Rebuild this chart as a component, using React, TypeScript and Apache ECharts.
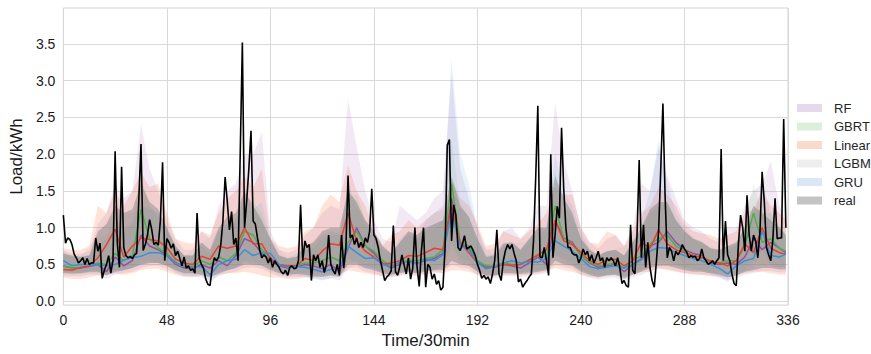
import React, { useEffect, useRef } from "react";
import * as echarts from "echarts";

// ---------------- data ----------------
const realLoad = [
  1.17, 0.79, 0.86, 0.84, 0.77, 0.64, 0.59, 0.52, 0.55, 0.59,
  0.50, 0.58, 0.50, 0.52, 0.52, 0.86, 0.68, 0.79, 0.31, 0.42,
  0.50, 0.62, 0.38, 0.55, 2.04, 0.80, 0.46, 1.83, 0.73, 0.62,
  0.59, 0.61, 0.58, 0.63, 0.65, 1.40, 2.14, 0.69, 0.77, 0.90,
  1.11, 0.97, 0.77, 0.80, 0.76, 1.10, 1.89, 0.55, 0.85, 0.80,
  0.72, 0.78, 0.62, 0.68, 0.58, 0.48, 0.60, 0.45, 0.48, 0.42,
  0.44, 0.38, 1.20, 0.59, 0.50, 0.45, 0.30, 0.23, 0.21, 0.45,
  0.59, 0.55, 0.60, 0.77, 1.10, 1.69, 1.36, 0.97, 1.22, 0.77,
  0.86, 0.55, 2.00, 3.52, 1.00, 1.36, 1.80, 2.32, 1.09, 1.05,
  0.86, 0.70, 0.59, 0.63, 0.60, 0.52, 0.59, 0.46, 0.55, 0.50,
  0.46, 0.40, 0.37, 0.42, 0.35, 0.46, 0.48, 0.44, 0.45, 0.55,
  1.31, 0.55, 0.82, 0.73, 0.77, 0.28, 0.63, 0.55, 0.63, 0.46,
  0.55, 0.39, 0.50, 0.90, 0.50, 0.42, 0.37, 0.50, 0.35, 0.90,
  0.45, 0.72, 1.71, 0.86, 0.90, 0.77, 0.86, 0.73, 0.80, 0.73,
  0.86, 0.80, 0.95, 1.53, 0.90, 0.85, 0.73, 0.55, 0.42, 0.28,
  0.33, 0.36, 0.41, 1.03, 0.40, 0.35, 0.47, 0.63, 0.49, 0.37,
  0.59, 0.30, 0.45, 1.00, 0.47, 0.20, 0.68, 1.00, 0.19, 0.50,
  0.46, 0.30, 0.37, 0.23, 0.28, 0.15, 0.19, 0.73, 2.12, 2.20,
  0.82, 1.31, 1.17, 0.73, 0.69, 0.77, 0.89, 0.71, 0.73, 0.75,
  0.69, 0.62, 0.50, 0.42, 0.31, 0.35, 0.30, 0.33, 0.24, 0.37,
  0.55, 0.97, 0.37, 0.28, 0.55, 0.69, 0.77, 0.71, 0.77, 0.65,
  0.55, 0.26, 0.30, 0.19, 0.24, 0.28, 0.33, 0.37, 0.82, 1.67,
  2.66, 0.60, 0.59, 0.73, 0.55, 0.35, 2.00, 0.59, 0.90, 1.29,
  1.13, 2.36, 1.53, 1.00, 0.73, 0.73, 0.65, 0.63, 0.63, 0.52,
  0.59, 0.71, 0.63, 0.68, 0.55, 0.63, 0.52, 0.59, 0.68, 0.55,
  0.59, 0.46, 0.59, 0.55, 0.59, 0.55, 0.48, 0.59, 0.46, 0.24,
  0.28, 0.21, 0.19, 1.04, 0.42, 0.37, 0.90, 1.92, 0.59, 1.04,
  0.46, 0.80, 0.46, 0.28, 0.19, 0.55, 0.95, 1.80, 2.69, 1.44,
  0.59, 0.73, 0.68, 0.55, 0.68, 0.63, 0.68, 0.77, 0.71, 0.67,
  0.59, 0.62, 0.60, 0.61, 0.55, 0.58, 0.71, 0.59, 0.55, 0.50,
  0.52, 0.55, 0.50, 0.55, 0.59, 2.07, 0.55, 1.09, 0.63, 0.55,
  0.37, 0.24, 0.21, 0.77, 1.17, 1.00, 0.68, 1.44, 0.90, 0.68,
  0.90, 0.82, 0.59, 0.95, 1.76, 1.36, 0.73, 0.63, 0.55, 0.85,
  1.40, 0.85, 0.86, 0.86, 2.48, 1.00,
];

// time steps (30 min) of the full-resolution series
const realTime = realLoad.map((_, i) => i);
// time steps at which the model curves / bands were read (every 4 steps + last)
const coarseTime = [
  0, 4, 8, 12, 16, 20, 24, 28, 32, 36, 40, 44,
  48, 52, 56, 60, 64, 68, 72, 76, 80, 84, 88, 92,
  96, 100, 104, 108, 112, 116, 120, 124, 128, 132, 136, 140,
  144, 148, 152, 156, 160, 164, 168, 172, 176, 180, 184, 188,
  192, 196, 200, 204, 208, 212, 216, 220, 224, 228, 232, 236,
  240, 244, 248, 252, 256, 260, 264, 268, 272, 276, 280, 284,
  288, 292, 296, 300, 304, 308, 312, 316, 320, 324, 328, 332, 335,
];
const lgbmTime = [
  0, 8, 16, 24, 32, 40, 48, 56, 64, 72, 80, 88, 96, 104, 112, 120, 128, 136, 144, 152, 160,
  168, 176, 184, 192, 200, 208, 216, 224, 232, 240, 248, 256, 264, 272, 280, 288, 296, 304,
  312, 320, 328, 335,
];

const gruPred = [
  0.55, 0.48, 0.50, 0.50, 0.50, 0.48, 0.50, 0.56, 0.59, 0.61, 0.66, 0.66,
  0.62, 0.53, 0.47, 0.46, 0.47, 0.36, 0.50, 0.55, 0.57, 0.70, 0.62, 0.66,
  0.65, 0.50, 0.46, 0.47, 0.46, 0.43, 0.40, 0.43, 0.45, 0.75, 0.66, 0.58,
  0.59, 0.50, 0.47, 0.53, 0.53, 0.51, 0.57, 0.55, 0.63, 1.20, 0.75, 0.70,
  0.53, 0.44, 0.47, 0.52, 0.55, 0.52, 0.54, 0.53, 0.58, 0.82, 0.75, 0.68,
  0.58, 0.47, 0.44, 0.46, 0.48, 0.45, 0.50, 0.56, 0.68, 0.73, 0.72, 0.66,
  0.62, 0.58, 0.55, 0.50, 0.45, 0.37, 0.48, 0.55, 0.58, 0.95, 0.62, 0.60, 0.64,
];
const linearPred = [
  0.43, 0.42, 0.46, 0.48, 0.59, 0.77, 0.98, 0.60, 0.75, 0.86, 0.84, 0.82,
  0.73, 0.57, 0.52, 0.50, 0.61, 0.57, 0.75, 0.72, 0.75, 1.00, 0.78, 0.78,
  0.58, 0.50, 0.48, 0.48, 0.58, 0.55, 0.68, 0.78, 0.76, 1.20, 0.82, 0.68,
  0.60, 0.50, 0.52, 0.55, 0.62, 0.61, 0.66, 0.72, 0.70, 1.30, 0.80, 0.66,
  0.52, 0.45, 0.47, 0.50, 0.49, 0.50, 0.56, 0.63, 0.70, 1.10, 0.82, 0.77,
  0.66, 0.55, 0.50, 0.56, 0.57, 0.48, 0.55, 0.80, 0.72, 0.97, 0.78, 0.70,
  0.66, 0.62, 0.59, 0.55, 0.52, 0.48, 0.55, 0.78, 0.66, 1.00, 0.72, 0.66, 0.64,
];
const rfPred = [
  0.48, 0.45, 0.45, 0.47, 0.50, 0.40, 0.60, 0.48, 0.55, 0.90, 0.75, 0.70,
  0.62, 0.50, 0.45, 0.45, 0.50, 0.45, 0.55, 0.48, 0.62, 0.85, 0.80, 0.65,
  0.55, 0.48, 0.45, 0.47, 0.50, 0.48, 0.44, 0.50, 0.40, 0.72, 1.00, 0.75,
  0.65, 0.52, 0.45, 0.50, 0.55, 0.52, 0.55, 0.58, 0.65, 1.40, 0.78, 0.72,
  0.52, 0.47, 0.46, 0.50, 0.48, 0.45, 0.52, 0.60, 0.50, 1.10, 0.86, 0.80,
  0.62, 0.52, 0.46, 0.48, 0.50, 0.40, 0.50, 0.58, 0.75, 0.80, 0.95, 0.80,
  0.70, 0.65, 0.62, 0.52, 0.50, 0.52, 0.50, 0.60, 0.85, 0.70, 0.80, 0.72, 0.66,
];
const gbrtPred = [
  0.47, 0.45, 0.46, 0.48, 0.52, 0.50, 0.65, 0.55, 0.62, 1.25, 0.85, 0.72,
  0.65, 0.52, 0.48, 0.47, 0.55, 0.50, 0.60, 0.55, 0.65, 0.95, 0.90, 0.70,
  0.58, 0.50, 0.47, 0.48, 0.52, 0.52, 0.55, 0.60, 0.55, 0.80, 0.95, 0.75,
  0.68, 0.55, 0.48, 0.52, 0.56, 0.55, 0.58, 0.60, 0.70, 1.60, 0.80, 0.75,
  0.55, 0.48, 0.47, 0.52, 0.50, 0.50, 0.56, 0.62, 0.60, 1.30, 0.85, 0.78,
  0.62, 0.53, 0.48, 0.50, 0.52, 0.45, 0.55, 0.62, 0.78, 0.85, 0.90, 0.75,
  0.68, 0.62, 0.60, 0.53, 0.52, 0.55, 0.55, 0.75, 1.20, 0.80, 0.85, 0.72, 0.68,
];

const realBandHigh = [
  0.65, 0.62, 0.60, 0.62, 0.95, 1.05, 1.30, 1.20, 1.25, 1.60, 1.35, 1.25,
  1.00, 0.75, 0.62, 0.62, 0.80, 0.70, 1.00, 1.15, 1.20, 1.50, 1.30, 1.10,
  0.85, 0.62, 0.58, 0.60, 0.75, 0.80, 0.95, 1.00, 1.00, 1.50, 1.35, 1.10,
  0.95, 0.75, 0.65, 0.80, 0.95, 0.90, 1.00, 1.05, 1.10, 1.70, 1.30, 1.15,
  0.85, 0.60, 0.62, 0.78, 0.80, 0.70, 0.85, 1.00, 1.00, 1.70, 1.40, 1.20,
  0.85, 0.70, 0.62, 0.68, 0.70, 0.62, 0.80, 1.00, 1.25, 1.35, 1.35, 1.10,
  0.95, 0.85, 0.80, 0.72, 0.70, 0.75, 0.80, 1.00, 1.30, 1.20, 1.10, 1.00, 0.90,
];
const realBandLow = [
  0.38, 0.38, 0.38, 0.40, 0.40, 0.35, 0.40, 0.42, 0.45, 0.50, 0.52, 0.52,
  0.48, 0.42, 0.38, 0.38, 0.36, 0.32, 0.38, 0.42, 0.45, 0.50, 0.50, 0.48,
  0.42, 0.38, 0.36, 0.37, 0.36, 0.34, 0.33, 0.35, 0.33, 0.50, 0.50, 0.45,
  0.42, 0.38, 0.36, 0.38, 0.40, 0.38, 0.40, 0.42, 0.42, 0.55, 0.50, 0.48,
  0.40, 0.35, 0.35, 0.38, 0.38, 0.37, 0.38, 0.40, 0.42, 0.55, 0.50, 0.48,
  0.40, 0.36, 0.33, 0.35, 0.36, 0.30, 0.36, 0.40, 0.45, 0.48, 0.48, 0.45,
  0.42, 0.40, 0.40, 0.38, 0.36, 0.32, 0.35, 0.40, 0.42, 0.45, 0.45, 0.43, 0.43,
];
const linearBandHigh = [
  0.72, 0.70, 0.70, 0.75, 1.30, 1.20, 1.50, 1.30, 1.50, 1.75, 1.55, 1.60,
  1.20, 0.85, 0.80, 0.78, 0.95, 0.90, 1.20, 1.40, 1.50, 1.70, 1.55, 1.80,
  0.85, 0.75, 0.72, 0.75, 0.95, 1.00, 1.30, 1.45, 1.35, 1.85, 1.50, 1.30,
  0.95, 0.75, 0.90, 0.95, 1.10, 1.00, 1.10, 1.20, 1.25, 1.65, 1.40, 1.30,
  1.05, 0.75, 0.78, 0.95, 0.90, 0.85, 0.95, 1.05, 1.20, 1.55, 1.45, 1.45,
  1.00, 0.80, 0.78, 0.95, 0.90, 0.75, 0.95, 1.20, 1.30, 1.55, 1.45, 1.30,
  1.05, 0.95, 0.92, 0.90, 0.85, 0.90, 0.95, 1.20, 1.25, 1.50, 1.30, 1.20, 1.10,
];
const linearBandLow = [
  0.32, 0.30, 0.30, 0.32, 0.35, 0.36, 0.38, 0.36, 0.38, 0.42, 0.44, 0.44,
  0.40, 0.36, 0.33, 0.32, 0.35, 0.33, 0.36, 0.38, 0.38, 0.40, 0.38, 0.35,
  0.32, 0.32, 0.30, 0.30, 0.33, 0.32, 0.34, 0.36, 0.36, 0.42, 0.40, 0.38,
  0.36, 0.34, 0.33, 0.36, 0.38, 0.36, 0.38, 0.40, 0.38, 0.42, 0.42, 0.40,
  0.36, 0.34, 0.34, 0.36, 0.36, 0.35, 0.36, 0.38, 0.40, 0.45, 0.42, 0.40,
  0.36, 0.33, 0.32, 0.36, 0.35, 0.33, 0.36, 0.40, 0.40, 0.45, 0.42, 0.40,
  0.38, 0.37, 0.36, 0.35, 0.34, 0.33, 0.35, 0.38, 0.40, 0.40, 0.38, 0.36, 0.36,
];
const rfBandHigh = [
  0.70, 0.65, 0.65, 0.68, 1.05, 1.20, 1.60, 1.40, 1.50, 2.40, 1.80, 1.50,
  1.10, 0.85, 0.70, 0.70, 0.95, 0.85, 1.30, 1.50, 1.60, 2.00, 2.00, 2.30,
  0.95, 0.70, 0.66, 0.70, 0.90, 1.00, 1.20, 1.30, 1.25, 2.75, 2.10, 1.50,
  1.10, 0.85, 0.80, 1.30, 1.20, 1.10, 1.20, 1.40, 1.50, 3.10, 1.80, 1.40,
  1.00, 0.70, 0.72, 0.95, 1.00, 0.85, 1.00, 1.30, 1.30, 2.70, 1.90, 1.50,
  1.00, 0.80, 0.72, 0.85, 0.90, 0.75, 1.00, 1.60, 1.50, 2.10, 1.70, 1.40,
  1.10, 1.00, 0.95, 0.85, 0.80, 1.00, 1.00, 1.30, 1.50, 1.60, 1.90, 1.30, 1.10,
];
const rfBandLow = [
  0.34, 0.34, 0.34, 0.36, 0.36, 0.30, 0.36, 0.38, 0.40, 0.45, 0.48, 0.48,
  0.44, 0.38, 0.34, 0.34, 0.32, 0.28, 0.34, 0.38, 0.40, 0.45, 0.46, 0.44,
  0.38, 0.34, 0.32, 0.33, 0.32, 0.30, 0.29, 0.31, 0.28, 0.45, 0.46, 0.40,
  0.38, 0.34, 0.32, 0.34, 0.36, 0.34, 0.36, 0.38, 0.38, 0.50, 0.46, 0.44,
  0.36, 0.31, 0.31, 0.34, 0.34, 0.33, 0.34, 0.36, 0.38, 0.50, 0.46, 0.44,
  0.36, 0.32, 0.29, 0.31, 0.32, 0.26, 0.32, 0.36, 0.41, 0.44, 0.44, 0.41,
  0.38, 0.36, 0.36, 0.34, 0.32, 0.28, 0.31, 0.36, 0.38, 0.41, 0.41, 0.39, 0.39,
];
const gruBandHigh = [
  0.68, 0.60, 0.62, 0.62, 0.75, 0.85, 1.00, 0.95, 1.05, 1.30, 1.25, 1.20,
  1.00, 0.75, 0.62, 0.62, 0.75, 0.65, 0.95, 1.05, 1.10, 1.40, 1.25, 1.35,
  0.85, 0.62, 0.58, 0.60, 0.70, 0.72, 0.85, 0.90, 0.90, 1.60, 1.30, 1.05,
  0.90, 0.70, 0.65, 0.85, 0.95, 0.85, 1.10, 1.20, 1.30, 3.30, 2.00, 1.60,
  1.00, 0.62, 0.65, 0.80, 0.80, 0.70, 0.85, 1.00, 1.00, 2.00, 1.50, 1.30,
  0.95, 0.70, 0.62, 0.68, 0.70, 0.62, 0.85, 1.10, 1.50, 2.20, 1.60, 1.20,
  1.00, 0.85, 0.80, 0.72, 0.68, 0.70, 0.75, 1.00, 1.10, 1.60, 1.20, 1.00, 0.90,
];
const gruBandLow = [
  0.40, 0.36, 0.38, 0.38, 0.38, 0.36, 0.38, 0.42, 0.45, 0.48, 0.52, 0.52,
  0.48, 0.40, 0.35, 0.34, 0.35, 0.24, 0.36, 0.42, 0.44, 0.55, 0.48, 0.52,
  0.50, 0.38, 0.34, 0.35, 0.34, 0.31, 0.28, 0.31, 0.33, 0.58, 0.52, 0.44,
  0.45, 0.37, 0.35, 0.40, 0.40, 0.38, 0.44, 0.42, 0.48, 0.80, 0.58, 0.55,
  0.40, 0.32, 0.35, 0.39, 0.42, 0.39, 0.41, 0.40, 0.44, 0.62, 0.58, 0.52,
  0.44, 0.35, 0.32, 0.34, 0.36, 0.33, 0.37, 0.42, 0.52, 0.56, 0.55, 0.50,
  0.47, 0.44, 0.41, 0.37, 0.33, 0.26, 0.35, 0.41, 0.44, 0.70, 0.47, 0.45, 0.48,
];
const gbrtBandHigh = [
  0.62, 0.60, 0.60, 0.63, 0.85, 0.90, 1.15, 1.00, 1.10, 1.70, 1.30, 1.15,
  0.95, 0.72, 0.62, 0.62, 0.78, 0.70, 0.95, 1.00, 1.10, 1.45, 1.35, 1.20,
  0.80, 0.62, 0.60, 0.62, 0.75, 0.78, 0.90, 0.95, 0.92, 1.40, 1.45, 1.10,
  0.95, 0.72, 0.65, 0.80, 0.90, 0.85, 0.95, 1.00, 1.10, 2.20, 1.30, 1.15,
  0.85, 0.62, 0.62, 0.75, 0.75, 0.68, 0.82, 0.95, 0.95, 1.80, 1.30, 1.15,
  0.85, 0.70, 0.62, 0.68, 0.70, 0.62, 0.80, 0.95, 1.20, 1.30, 1.35, 1.10,
  0.95, 0.85, 0.82, 0.72, 0.70, 0.75, 0.78, 1.05, 1.60, 1.20, 1.20, 1.00, 0.95,
];
const gbrtBandLow = [
  0.38, 0.37, 0.37, 0.39, 0.40, 0.37, 0.42, 0.42, 0.45, 0.55, 0.55, 0.52,
  0.48, 0.42, 0.38, 0.38, 0.40, 0.36, 0.42, 0.42, 0.46, 0.55, 0.55, 0.50,
  0.44, 0.39, 0.37, 0.38, 0.39, 0.38, 0.38, 0.40, 0.38, 0.52, 0.55, 0.48,
  0.45, 0.40, 0.37, 0.39, 0.41, 0.40, 0.42, 0.43, 0.46, 0.75, 0.52, 0.50,
  0.41, 0.36, 0.36, 0.39, 0.38, 0.38, 0.40, 0.43, 0.42, 0.65, 0.52, 0.50,
  0.42, 0.38, 0.35, 0.36, 0.38, 0.33, 0.38, 0.42, 0.48, 0.52, 0.52, 0.48,
  0.45, 0.42, 0.42, 0.39, 0.38, 0.36, 0.38, 0.44, 0.55, 0.48, 0.50, 0.46, 0.46,
];
const lgbmBandHigh = [
  0.63, 0.60, 0.90, 1.20, 1.20, 1.30, 0.95, 0.62, 0.78, 0.98, 1.15, 1.25, 0.82, 0.58,
  0.72, 0.92, 0.95, 1.30, 0.92, 0.65, 0.92, 0.98, 1.10, 1.25, 0.82, 0.62, 0.78, 0.82,
  0.98, 1.35, 0.85, 0.62, 0.70, 0.80, 1.20, 1.30, 0.95, 0.80, 0.70, 0.78, 1.25, 1.10, 0.90,
];
const lgbmBandLow = [
  0.40, 0.40, 0.42, 0.42, 0.47, 0.54, 0.50, 0.40, 0.38, 0.40, 0.47, 0.52, 0.44, 0.38,
  0.38, 0.35, 0.35, 0.52, 0.44, 0.38, 0.42, 0.42, 0.44, 0.52, 0.42, 0.37, 0.40, 0.40,
  0.44, 0.52, 0.42, 0.35, 0.38, 0.38, 0.47, 0.50, 0.44, 0.42, 0.38, 0.37, 0.44, 0.47, 0.45,
];

const xTicks = [0, 48, 96, 144, 192, 240, 288, 336];
const yTicks = [0, 0.5, 1.0, 1.5, 2.0, 2.5, 3.0, 3.5];
const legendNames = ["RF", "GBRT", "Linear", "LGBM", "GRU", "real"];

// ---------------- styles ----------------
const FONT = "'Liberation Sans', Arial, Helvetica, sans-serif";
const bandFill: Record<string, string> = {
  RF: "rgba(152,78,163,0.12)",
  GBRT: "rgba(77,175,74,0.1)",
  Linear: "rgba(255,127,80,0.22)",
  LGBM: "rgba(170,170,170,0.12)",
  GRU: "rgba(59,143,219,0.11)",
  real: "rgba(120,120,120,0.4)",
};
const swatch: Record<string, string> = {
  RF: "#e6d9ec",
  GBRT: "#dcefdb",
  Linear: "#fadbcb",
  LGBM: "#eeeeee",
  GRU: "#dce7f6",
  real: "#c4c4c4",
};

function pairs(xs: number[], ys: number[]) {
  const n = Math.min(xs.length, ys.length);
  const out: number[][] = [];
  for (let k = 0; k < n; k++) out.push([xs[k], ys[k]]);
  return out;
}

function bandSeries(name: string, xs: number[], lo: number[], hi: number[], z: number) {
  const n = Math.min(xs.length, lo.length, hi.length);
  return {
    type: "custom",
    name,
    z,
    silent: true,
    itemStyle: { color: bandFill[name] },
    data: [[xs[0], lo[0]]],
    renderItem: (_params: any, api: any) => {
      const pts: number[][] = [];
      for (let k = 0; k < n; k++) pts.push(api.coord([xs[k], hi[k]]));
      for (let k = n - 1; k >= 0; k--) pts.push(api.coord([xs[k], lo[k]]));
      return {
        type: "polygon",
        shape: { points: pts },
        style: { fill: bandFill[name], stroke: "none" },
      };
    },
  };
}

function lineSeries(name: string, xs: number[], ys: number[], color: string, width: number, z: number) {
  return {
    type: "line",
    name,
    z,
    silent: true,
    showSymbol: false,
    symbol: "none",
    data: pairs(xs, ys),
    lineStyle: { color, width },
    itemStyle: { color },
  };
}

export default function App() {
  const ref = useRef<HTMLDivElement>(null);

  useEffect(() => {
    if (!ref.current) return;
    const chart = echarts.init(ref.current, undefined, { renderer: "svg" });
    const option: any = {
      animation: false,
      backgroundColor: "#ffffff",
      textStyle: { fontFamily: FONT },
      grid: {
        left: 61,
        right: 83,
        top: 8,
        bottom: 46,
        show: true,
        borderColor: "#d3d3d3",
        borderWidth: 1,
        backgroundColor: "#ffffff",
      },
      legend: {
        orient: "vertical",
        left: 797,
        top: 101,
        padding: 0,
        icon: "rect",
        itemWidth: 25,
        itemHeight: 8,
        itemGap: 4.5,
        selectedMode: false,
        textStyle: {
          fontFamily: FONT,
          fontSize: 13,
          color: "#262626",
          lineHeight: 14,
          padding: [0, 0, 0, 7],
        },
        data: legendNames.map((nm) => ({
          name: nm,
          itemStyle: { color: swatch[nm], opacity: 1, borderWidth: 0 },
        })),
      },
      xAxis: {
        type: "value",
        min: 0,
        max: 336,
        interval: 48,
        name: "Time/30min",
        nameLocation: "middle",
        nameGap: 25,
        nameTextStyle: { fontFamily: FONT, fontSize: 17, color: "#1a1a1a" },
        axisLine: { show: false },
        axisTick: { show: false },
        axisLabel: {
          fontFamily: FONT,
          fontSize: 14,
          color: "#1a1a1a",
          margin: 8,
          customValues: xTicks,
        },
        splitLine: { show: true, lineStyle: { color: "#d9d9d9", width: 1 } },
      },
      yAxis: {
        type: "value",
        min: -0.054,
        max: 3.99,
        name: "Load/kWh",
        nameLocation: "middle",
        nameGap: 36,
        nameTextStyle: { fontFamily: FONT, fontSize: 17, color: "#1a1a1a" },
        axisLine: { show: false },
        axisTick: { show: false, customValues: yTicks },
        axisLabel: {
          fontFamily: FONT,
          fontSize: 14,
          color: "#1a1a1a",
          margin: 8,
          customValues: yTicks,
          formatter: (v: number) => v.toFixed(1),
        },
        splitLine: { show: true, lineStyle: { color: "#d9d9d9", width: 1 } },
      },
      series: [
        bandSeries("Linear", coarseTime, linearBandLow, linearBandHigh, 1),
        bandSeries("RF", coarseTime, rfBandLow, rfBandHigh, 2),
        bandSeries("GRU", coarseTime, gruBandLow, gruBandHigh, 3),
        bandSeries("GBRT", coarseTime, gbrtBandLow, gbrtBandHigh, 4),
        bandSeries("LGBM", lgbmTime, lgbmBandLow, lgbmBandHigh, 5),
        bandSeries("real", coarseTime, realBandLow, realBandHigh, 6),
        lineSeries("RF pred", coarseTime, rfPred, "#984ea3", 1.5, 7),
        lineSeries("GBRT pred", coarseTime, gbrtPred, "#4daf4a", 1.5, 8),
        lineSeries("Linear pred", coarseTime, linearPred, "#e8412c", 1.5, 9),
        lineSeries("GRU pred", coarseTime, gruPred, "#3a8fd9", 1.5, 10),
        lineSeries("real load", realTime, realLoad, "#000000", 1.6, 11),
      ],
    };
    chart.setOption(option);
    return () => chart.dispose();
  }, []);

  return (
    <div
      ref={ref}
      style={{ position: "fixed", left: 0, top: 0, width: 871, height: 354, background: "#fff" }}
    />
  );
}
